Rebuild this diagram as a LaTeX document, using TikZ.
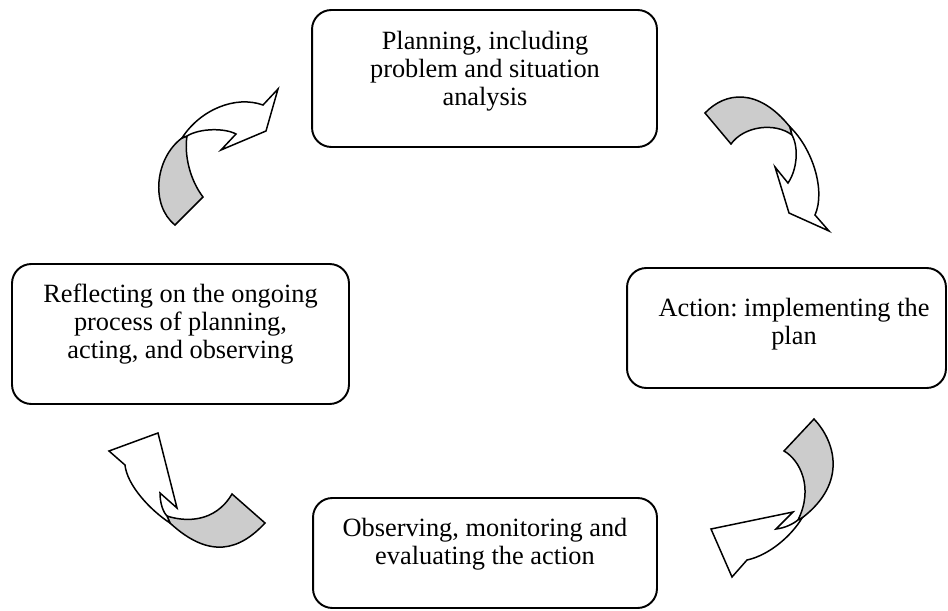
\documentclass[tikz,border=0pt]{standalone}
\usepackage{fontspec}
\setmainfont{Liberation Serif}
\frenchspacing

\definecolor{backside}{RGB}{204,204,204}

\tikzset{
  stage/.style={draw, rounded corners=11pt, line width=1.1pt},
  stagetext/.style={align=center, font=\fontsize{15}{16}\selectfont},
  front/.style={draw, fill=white, line width=0.85pt},
  back/.style={draw, fill=backside, line width=0.85pt}
}

\begin{document}
\begin{tikzpicture}[x=0.02cm, y=-0.02cm]
\useasboundingbox (0,0) rectangle (948,611);

% nodes
\node[stage, minimum width=6.9cm, minimum height=2.74cm] (plan) at (484.5,78.5) {};
\node[stagetext] (plantext) at (485,71) {Planning, including\\problem and situation\\analysis};

\node[stage, minimum width=6.38cm, minimum height=2.4cm] (act) at (786.5,328) {};
\node[stagetext] (acttext) at (794,324) {Action: implementing the\\plan};

\node[stage, minimum width=6.88cm, minimum height=2.2cm] (observe) at (485,553) {};
\node[stagetext] (observetext) at (485,544) {Observing, monitoring and\\evaluating the action};

\node[stage, minimum width=6.74cm, minimum height=2.8cm] (reflect) at (180.5,334) {};
\node[stagetext] (reflecttext) at (180.5,324) {Reflecting on the ongoing\\process of planning,\\acting, and observing};

% arrows
\filldraw[back] (182,138) .. controls (155,158) and (150,205) .. (175,225) -- (203,197) .. controls (190,180) and (184,155) .. (187,136) -- cycle;
\filldraw[front] (182,138) .. controls (200,110) and (235,95) .. (263,105) -- (278,89) -- (266,131) -- (221,150) -- (236,134) .. controls (225,128) and (200,128) .. (187,136) -- cycle;

\filldraw[back] (705,113) .. controls (725,92) and (758,87) .. (790,127) -- (792,135) .. controls (775,122) and (744,126) .. (731,144) -- cycle;
\filldraw[front] (790,127) .. controls (812,148) and (826,190) .. (815,215) -- (829,231) -- (789,213) -- (775,167) -- (788,183) .. controls (797,170) and (799,148) .. (792,135) -- cycle;

\filldraw[back] (814,419) .. controls (834,440) and (849,482) .. (802,518) -- (798,520) .. controls (814,488) and (800,460) .. (784,451) -- cycle;
\filldraw[front] (802,518) .. controls (792,535) and (770,555) .. (747,560) -- (732,577) -- (711,529) -- (793,512) -- (776,529) .. controls (785,528) and (793,524) .. (798,520) -- cycle;

\filldraw[back] (232,494) -- (265,523) .. controls (240,550) and (210,560) .. (170,523) -- (167,516) .. controls (185,522) and (215,523) .. (232,494) -- cycle;
\filldraw[front] (170,523) .. controls (150,510) and (127,485) .. (125,465) -- (109,451) -- (158,433) -- (177,508) -- (160,493) .. controls (160,503) and (163,512) .. (167,516) -- cycle;
\end{tikzpicture}
\end{document}
